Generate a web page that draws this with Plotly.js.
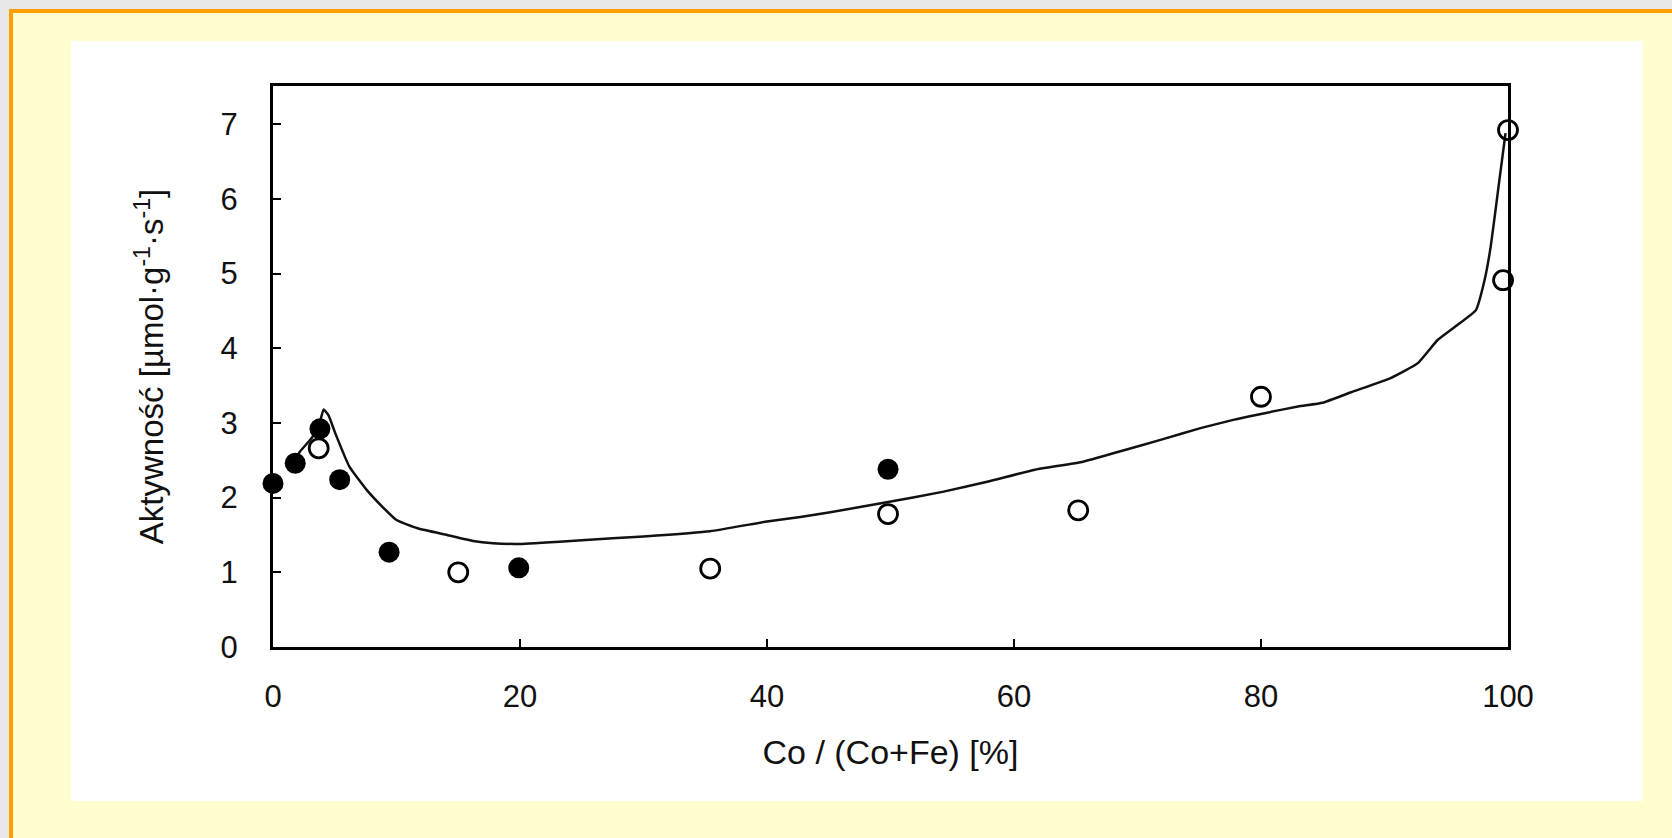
<!DOCTYPE html>
<html>
<head>
<meta charset="utf-8">
<script src="https://cdn.plot.ly/plotly-3.0.1.min.js"></script>
<style>
  html, body { margin: 0; padding: 0; width: 1672px; height: 838px; overflow: hidden; background: #e8e8e8; }
  #frame { position: absolute; left: 9px; top: 9px; width: 1659px; height: 825px;
           border-left: 4px solid #ff9f00; border-top: 4px solid #ff9f00; background: #fffdcd; }
  #panel { position: absolute; left: 71px; top: 41px; width: 1572px; height: 760px; background: #ffffff; }
  #chart { position: absolute; left: 0; top: 0; width: 1672px; height: 838px; }
</style>
</head>
<body>
<div id="frame"></div>
<div id="panel"></div>
<div id="chart"></div>
<script>
// Filled circles
const filledX = [0, 1.8, 3.8, 5.4, 9.4, 19.9, 49.8];
const filledY = [2.19, 2.46, 2.92, 2.24, 1.27, 1.06, 2.38];
// Open circles
const openX = [3.7, 15.0, 35.4, 49.8, 65.2, 80.0, 99.6, 100];
const openY = [2.66, 1.0, 1.05, 1.78, 1.83, 3.35, 4.91, 6.92];
// Fitted curve
const curveX = [1.5, 2.2, 3.1, 3.7, 4.1, 4.5, 5.0, 6.2, 7.6, 8.9, 10.0, 11.7, 14.1, 16.2, 17.8, 20, 25, 30, 35.4, 40, 42.7, 45, 49.8, 54.3, 58, 61.6, 65.6, 68.4, 72, 75.1, 78, 80, 83, 85, 87.3, 90.5, 92.7, 94.3, 95.9, 97.4, 98.1, 98.6, 99.2, 99.8];
const curveY = [2.45, 2.62, 2.79, 2.95, 3.18, 3.10, 2.88, 2.41, 2.10, 1.87, 1.70, 1.59, 1.50, 1.42, 1.39, 1.38, 1.43, 1.48, 1.55, 1.68, 1.74, 1.80, 1.94, 2.08, 2.22, 2.37, 2.48, 2.61, 2.78, 2.93, 3.05, 3.12, 3.22, 3.27, 3.41, 3.60, 3.80, 4.11, 4.31, 4.51, 4.91, 5.36, 6.12, 6.88];
const xTicks = [0, 20, 40, 60, 80, 100];
const yTicks = [0, 1, 2, 3, 4, 5, 6, 7];
const xTitle = 'Co / (Co+Fe) [%]';
const yTitle = 'Aktywność [µmol·g<sup>-1</sup>·s<sup>-1</sup>]';

const FONT = 'Liberation Sans, Arial, sans-serif';

const traces = [
  { x: curveX, y: curveY, mode: 'lines', type: 'scatter',
    line: { color: '#111', width: 2.5, shape: 'spline', smoothing: 0.4 }, hoverinfo: 'skip', cliponaxis: false },
  { x: openX, y: openY, mode: 'markers', type: 'scatter',
    marker: { symbol: 'circle-open', size: 19, color: '#000', line: { color: '#000', width: 2.8 } },
    cliponaxis: false },
  { x: filledX, y: filledY, mode: 'markers', type: 'scatter',
    marker: { symbol: 'circle', size: 21, color: '#000' }, cliponaxis: false }
];

const axisCommon = {
  showline: true, linecolor: '#000', linewidth: 3, mirror: true,
  ticks: 'inside', ticklen: 8, tickwidth: 2, tickcolor: '#000',
  showgrid: false, zeroline: false,
  tickfont: { family: FONT, size: 31, color: '#111' }
};

const layout = {
  width: 1672, height: 838,
  margin: { l: 273, r: 164, t: 86, b: 191, pad: 0 },
  paper_bgcolor: 'rgba(0,0,0,0)', plot_bgcolor: '#ffffff',
  showlegend: false,
  xaxis: Object.assign({}, axisCommon, {
    range: [0, 100], tickvals: xTicks, ticktext: xTicks.map(String),
    ticklabelstandoff: 20,
    title: { text: xTitle, font: { family: FONT, size: 34, color: '#111' }, standoff: 27 }
  }),
  yaxis: Object.assign({}, axisCommon, {
    range: [0, 7.51], tickvals: yTicks, ticktext: yTicks.map(String),
    ticklabelstandoff: 26,
    title: { text: yTitle, font: { family: FONT, size: 33, color: '#111' }, standoff: 47 }
  })
};

Plotly.newPlot('chart', traces, layout, { staticPlot: true, displayModeBar: false });
</script>
</body>
</html>
